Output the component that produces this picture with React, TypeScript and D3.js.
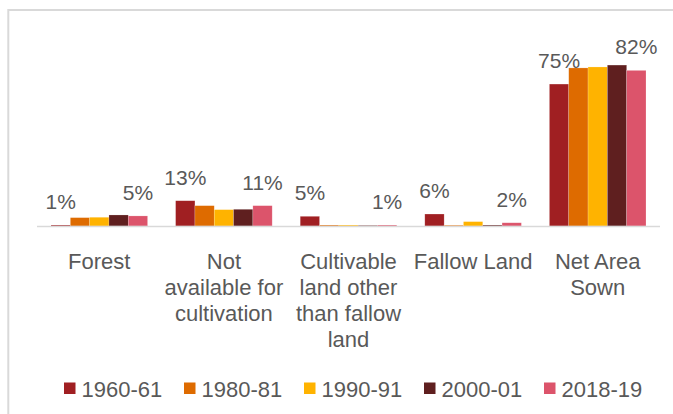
import React from "react";
import * as d3 from "d3";

const categories = [
  "Forest",
  "Not available for cultivation",
  "Cultivable land other than fallow land",
  "Fallow Land",
  "Net Area Sown",
];
const categoryLines = [
  ["Forest"],
  ["Not", "available for", "cultivation"],
  ["Cultivable", "land other", "than fallow", "land"],
  ["Fallow Land"],
  ["Net Area", "Sown"],
];
const seriesNames = ["1960-61", "1980-81", "1990-91", "2000-01", "2018-19"];
const v1960 = [0.5, 13.3, 5.1, 6.3, 74.7];
const v1980 = [4.4, 10.7, 0.5, 0.4, 83.2];
const v1990 = [4.6, 8.6, 0.5, 2.3, 83.7];
const v2000 = [5.8, 8.8, 0.3, 0.5, 84.7];
const v2018 = [5.3, 10.7, 0.5, 1.7, 81.9];
const seriesValues = [v1960, v1980, v1990, v2000, v2018];
const labelledSeries = ["1960-61", "2018-19"];
const colors = ["#A01F22", "#DE6B00", "#FFB300", "#5F1F1F", "#DC546B"];

const W = 673;
const H = 414;
const left = 37;
const right = 660;
const baseY = 226;
const topY = 36;
const textColor = "#595959";
const font = "'Liberation Sans', Arial, sans-serif";

export default function App() {
  const x0 = d3
    .scaleBand<string>()
    .domain(categories)
    .range([left, right])
    .paddingInner(0.225)
    .paddingOuter(0.1125);
  const x1 = d3
    .scaleBand<string>()
    .domain(seriesNames)
    .range([0, x0.bandwidth()]);
  const y = d3.scaleLinear().domain([0, 100]).range([baseY, topY]);

  return (
    <svg
      width={W}
      height={H}
      style={{ position: "absolute", left: 0, top: 0, background: "#fff" }}
      fontFamily={font}
    >
      <rect x={8.3} y={10} width={800} height={600} fill="none" stroke="#D9D9D9" strokeWidth={2} />
      {categories.map((c, ci) => (
        <g key={c} transform={`translate(${x0(c)},0)`}>
          {seriesNames.map((s, si) => {
            const v = seriesValues[si][ci];
            return (
              <rect
                key={s}
                x={x1(s)}
                y={y(v)}
                width={x1.bandwidth()}
                height={baseY - y(v)}
                fill={colors[si]}
                stroke="#ffffff"
                strokeOpacity={0.3}
                strokeWidth={0.6}
              />
            );
          })}
          {seriesNames.map((s, si) => {
            if (!labelledSeries.includes(s)) return null;
            const v = seriesValues[si][ci];
            return (
              <text
                key={"l" + s}
                x={(x1(s) as number) + x1.bandwidth() / 2}
                y={y(v) - 16}
                textAnchor="middle"
                fontSize={21}
                fill={textColor}
              >
                {Math.round(v) + "%"}
              </text>
            );
          })}
        </g>
      ))}
      <line x1={left} x2={right} y1={baseY + 0.5} y2={baseY + 0.5} stroke="#D9D9D9" strokeWidth={1.5} />
      {categories.map((c, ci) => (
        <text
          key={"c" + c}
          x={(x0(c) as number) + x0.bandwidth() / 2}
          textAnchor="middle"
          fontSize={22}
          fill={textColor}
        >
          {categoryLines[ci].map((ln, li) => (
            <tspan key={li} x={(x0(c) as number) + x0.bandwidth() / 2} y={269.3 + li * 26}>
              {ln}
            </tspan>
          ))}
        </text>
      ))}
      {seriesNames.map((s, si) => (
        <g key={"lg" + s} transform={`translate(${64 + si * 120},0)`}>
          <rect x={0} y={382.5} width={11.5} height={11.5} fill={colors[si]} />
          <text x={17.5} y={396.5} fontSize={22} fill={textColor}>
            {s}
          </text>
        </g>
      ))}
    </svg>
  );
}
